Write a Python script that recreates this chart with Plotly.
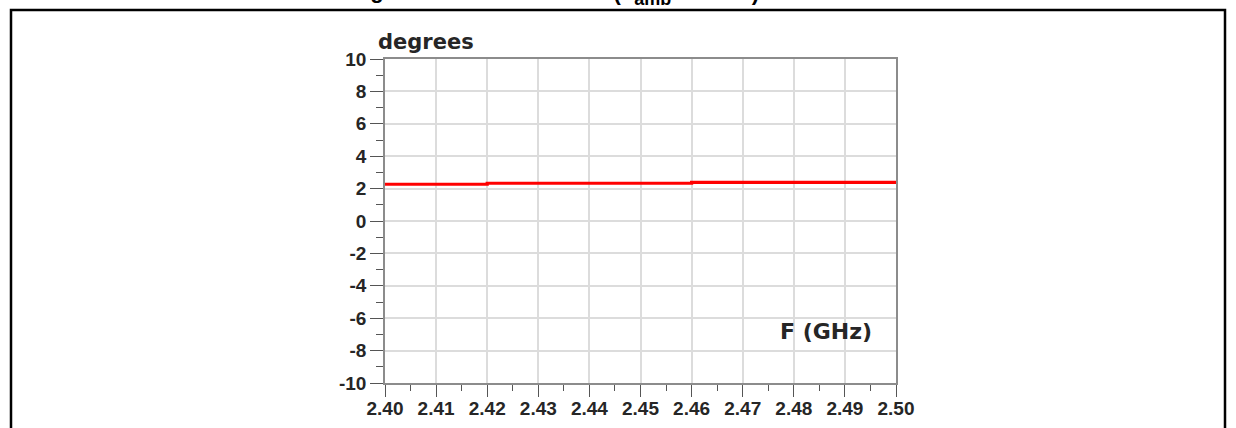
import plotly.graph_objects as go

# Data
freq_ghz = [2.40, 2.42, 2.46, 2.50]
phase_deg = [2.27, 2.33, 2.38, 2.38]

x_ticks = [2.40, 2.41, 2.42, 2.43, 2.44, 2.45, 2.46, 2.47, 2.48, 2.49, 2.50]
y_ticks = [-10, -8, -6, -4, -2, 0, 2, 4, 6, 8, 10]

W, H = 1236, 428
L, R, T, B = 385, 340, 59, 45
PW, PH = W - L - R, H - T - B

def px_x(p):
    return (p - L) / PW

def px_y(p):
    return (H - B - p) / PH

FONT = "Liberation Sans, Arial, sans-serif"
FONT2 = "DejaVu Sans, Verdana, sans-serif"
TXT = "#262626"

fig = go.Figure()
fig.add_trace(go.Scatter(
    x=freq_ghz, y=phase_deg, mode="lines", line_shape="hv",
    line=dict(color="#ff0000", width=3.2), showlegend=False, hoverinfo="skip"))

axis_common = dict(
    showline=True, linecolor="#8c8c8c", linewidth=1.5, mirror=True,
    showgrid=True, gridcolor="#dcdcdc", gridwidth=1.5,
    ticks="outside", tickcolor="#555555", tickwidth=1.2,
    zeroline=False, automargin=False,
    tickfont=dict(family=FONT, size=19, color=TXT, weight="bold"),
)

fig.update_xaxes(
    range=[2.40, 2.50], tickvals=x_ticks, ticktext=[f"{v:.2f}" for v in x_ticks],
    ticklen=12, ticklabelstandoff=-5,
    minor=dict(dtick=0.005, tick0=2.40, ticks="outside", ticklen=6,
               tickcolor="#555555", tickwidth=1.2, showgrid=False),
    **axis_common)
fig.update_yaxes(
    range=[-10, 10], tickvals=y_ticks, ticktext=[str(v) for v in y_ticks],
    ticklen=13,
    minor=dict(dtick=1, tick0=0, ticks="outside", ticklen=7,
               tickcolor="#555555", tickwidth=1.2, showgrid=False),
    **axis_common)

title_font = dict(family=FONT, size=22, color="#000000", weight="bold")
annotations = [
    dict(text="degrees", xref="paper", yref="paper", x=px_x(376), y=px_y(42),
         xanchor="left", yanchor="middle", showarrow=False,
         font=dict(family=FONT2, size=21, color=TXT, weight="bold")),
    dict(text="F (GHz)", xref="paper", yref="paper", x=px_x(874), y=px_y(331),
         xanchor="right", yanchor="middle", showarrow=False,
         font=dict(family=FONT2, size=22, color=TXT, weight="bold")),
    dict(text="Phase Imbalance Using",
         xref="paper", yref="paper", x=px_x(386), y=px_y(5),
         xanchor="right", yanchor="bottom", showarrow=False, font=title_font),
    dict(text="Matched Balun Pairs (T<sub><span style='font-size:18px'>amb</span></sub> = 25 °C)",
         xref="paper", yref="paper", x=px_x(761), y=px_y(11),
         xanchor="right", yanchor="bottom", showarrow=False, font=title_font),
]

shapes = [
    dict(type="rect", xref="paper", yref="paper",
         x0=px_x(11), x1=px_x(1225), y0=px_y(460), y1=px_y(10),
         line=dict(color="#000000", width=2.5), fillcolor="rgba(0,0,0,0)", layer="above"),
]

fig.update_layout(
    width=W, height=H, margin=dict(l=L, r=R, t=T, b=B, pad=0, autoexpand=False),
    paper_bgcolor="white", plot_bgcolor="white",
    annotations=annotations, shapes=shapes, showlegend=False,
)

fig.write_html("out.html", config={"displayModeBar": False},
               post_script="document.body.style.margin='0';document.body.style.padding='0';")
